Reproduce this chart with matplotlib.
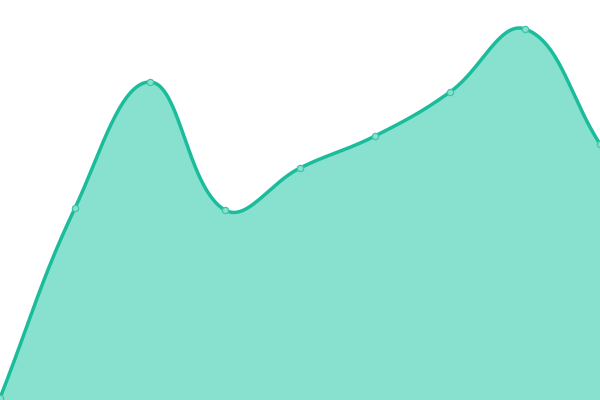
import numpy as np
import matplotlib
matplotlib.use("Agg")
import matplotlib.pyplot as plt

labels = ["A", "B", "C", "D", "E", "F", "G", "H", "I"]
values = [2, 192, 318, 190, 232, 264, 308, 371, 256]

LINE = "#1abc9c"
FILL = "#88e0cf"

fig = plt.figure(figsize=(6, 4), dpi=100)
ax = fig.add_axes([0, 0, 1, 1])
ax.set_xlim(0, len(values) - 1)
ax.set_ylim(0, 400)
ax.axis("off")

# Chart.js style bezier control points (tension 0.4) in pixel space
xs = np.arange(len(values), dtype=float)
ys = np.array(values, dtype=float)
px = xs * 75.0
py = ys.copy()
t = 0.4
n = len(values)
cp_prev = np.zeros((n, 2))
cp_next = np.zeros((n, 2))
for i in range(n):
    pi = np.array([px[max(i - 1, 0)], py[max(i - 1, 0)]])
    ci = np.array([px[i], py[i]])
    ni = np.array([px[min(i + 1, n - 1)], py[min(i + 1, n - 1)]])
    d01 = np.hypot(*(ci - pi))
    d12 = np.hypot(*(ni - ci))
    tot = d01 + d12
    s01 = d01 / tot if tot else 0
    s12 = d12 / tot if tot else 0
    cp_prev[i] = ci - t * s01 * (ni - pi)
    cp_next[i] = ci + t * s12 * (ni - pi)

cx, cy = [], []
u = np.linspace(0, 1, 60)
for i in range(n - 1):
    p0 = np.array([px[i], py[i]])
    p1 = cp_next[i]
    p2 = cp_prev[i + 1]
    p3 = np.array([px[i + 1], py[i + 1]])
    b = ((1 - u) ** 3)[:, None] * p0 + (3 * (1 - u) ** 2 * u)[:, None] * p1 + \
        (3 * (1 - u) * u ** 2)[:, None] * p2 + (u ** 3)[:, None] * p3
    cx.extend(b[:, 0] / 75.0)
    cy.extend(b[:, 1])
cx = np.array(cx)
cy = np.array(cy)

ax.fill_between(cx, 0, cy, color=FILL, linewidth=0)
ax.plot(cx, cy, color=LINE, linewidth=2.5, solid_capstyle="round")
ax.plot(xs, ys, linestyle="none", marker="o", markersize=4.5,
        markerfacecolor=FILL, markeredgecolor="#3cc8a8", markeredgewidth=0.9)

fig.savefig("out.png", dpi=100)
